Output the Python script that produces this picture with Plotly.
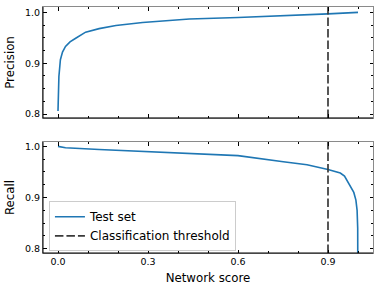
import plotly.graph_objects as go

# ---- data ----
prec_score = [0.0, 0.001, 0.003, 0.008, 0.015, 0.025, 0.04, 0.059, 0.075, 0.092, 0.137, 0.193, 0.282, 0.438, 0.6, 0.774, 0.9, 1.0]
precision = [0.806, 0.845, 0.874, 0.907, 0.922, 0.933, 0.942, 0.949, 0.955, 0.961, 0.968, 0.974, 0.980, 0.987, 0.990, 0.9935, 0.997, 1.0]

rec_score = [0.0, 0.025, 0.137, 0.248, 0.438, 0.6, 0.751, 0.83, 0.9, 0.941, 0.955, 0.964, 0.976, 0.986, 0.993, 0.997, 0.999, 1.0]
recall = [1.0, 0.9975, 0.994, 0.991, 0.986, 0.982, 0.970, 0.964, 0.955, 0.948, 0.942, 0.933, 0.922, 0.910, 0.895, 0.875, 0.84, 0.6]

threshold = 0.9
x_range = [-0.05, 1.05]
prec_range = [0.7925, 1.0105]
rec_range = [0.7915, 1.0085]
x_ticks = [0.0, 0.3, 0.6, 0.9]
y_ticks = [0.8, 0.9, 1.0]

BLUE = "#1f77b4"
DASH_COLOR = "#3a3a3a"
FONT = "DejaVu Sans"
DASH = "8.5px,3px"

fig = go.Figure()

fig.add_trace(go.Scatter(x=prec_score, y=precision, mode="lines", xaxis="x", yaxis="y",
                         line=dict(color=BLUE, width=1.6), showlegend=False))
fig.add_trace(go.Scatter(x=[threshold, threshold], y=prec_range, mode="lines", xaxis="x", yaxis="y",
                         line=dict(color=DASH_COLOR, width=1.7, dash=DASH), showlegend=False))
fig.add_trace(go.Scatter(x=rec_score, y=recall, mode="lines", xaxis="x2", yaxis="y2",
                         line=dict(color=BLUE, width=1.6), name="Test set"))
fig.add_trace(go.Scatter(x=[threshold, threshold], y=rec_range, mode="lines", xaxis="x2", yaxis="y2",
                         line=dict(color=DASH_COLOR, width=1.7, dash=DASH), name="Classification threshold"))

axis_common = dict(showline=True, linecolor="#8a8a8a", linewidth=1, mirror="ticks",
                   ticks="inside", ticklen=3.5, tickwidth=1, tickcolor="black",
                   showgrid=False, zeroline=False,
                   tickfont=dict(family=FONT, size=9.5, color="black"))

fig.update_layout(
    width=381, height=291,
    margin=dict(l=43, r=8, t=7, b=38),
    paper_bgcolor="white", plot_bgcolor="white",
    font=dict(family=FONT, color="black"),
    xaxis=dict(domain=[0, 1], anchor="y", range=x_range, tickvals=x_ticks, showticklabels=False,
               minor=dict(dtick=0.1, tick0=0, ticks="inside", ticklen=2, tickcolor="black"), **axis_common),
    yaxis=dict(domain=[0.549, 1], anchor="x", range=prec_range, tickvals=y_ticks, tickformat=".1f",
               minor=dict(dtick=0.025, tick0=0.8, ticks="inside", ticklen=2, tickcolor="black"),
               title=dict(text="Precision", font=dict(family=FONT, size=11.8), standoff=7), **axis_common),
    xaxis2=dict(domain=[0, 1], anchor="y2", range=x_range, tickvals=x_ticks, tickformat=".1f",
                minor=dict(dtick=0.1, tick0=0, ticks="inside", ticklen=2, tickcolor="black"),
                title=dict(text="Network score", font=dict(family=FONT, size=11.8), standoff=7), **axis_common),
    yaxis2=dict(domain=[0, 0.451], anchor="x2", range=rec_range, tickvals=y_ticks, tickformat=".1f",
                minor=dict(dtick=0.025, tick0=0.8, ticks="inside", ticklen=2, tickcolor="black"),
                title=dict(text="Recall", font=dict(family=FONT, size=11.8), standoff=7), **axis_common),
    legend=dict(x=0.018, y=0.007, xanchor="left", yanchor="bottom",
                bgcolor="rgba(255,255,255,0.8)", bordercolor="#cccccc", borderwidth=1,
                font=dict(family=FONT, size=12, color="black"),
                tracegroupgap=0, itemwidth=30),
)

# black left and bottom spines
for xd, yd in (("x domain", "y domain"), ("x2 domain", "y2 domain")):
    fig.add_shape(type="line", xref=xd, yref=yd, x0=0, x1=0, y0=0, y1=1,
                  line=dict(color="black", width=1), layer="above")
    fig.add_shape(type="line", xref=xd, yref=yd, x0=0, x1=1, y0=0, y1=0,
                  line=dict(color="black", width=1), layer="above")

fig.write_html("out.html", config={"displayModeBar": False},
               post_script="document.body.style.margin='0';document.body.style.overflow='hidden';")
